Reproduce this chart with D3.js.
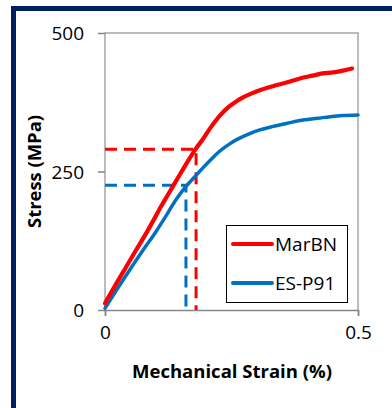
<!DOCTYPE html>
<html><head><meta charset="utf-8">
<script src="https://cdn.jsdelivr.net/npm/d3@7"></script>
<style>html,body{margin:0;padding:0;background:#fff;}svg{display:block;font-family:"Open Sans",sans-serif;}</style>
</head><body>
<svg id="c" width="392" height="408"></svg>
<script>
// Data
const seriesNames = ["MarBN", "ES-P91"];
const marbn = [[0,12],[0.02,44],[0.04,75],[0.06,106],[0.083,141],[0.1,169],[0.112,189],[0.125,209],[0.145,240],[0.16,263],[0.178,289],[0.194,309],[0.21,331],[0.227,351],[0.245,367],[0.26,377],[0.271,383],[0.29,391],[0.31,398],[0.34,406],[0.36,411],[0.385,418],[0.41,423],[0.43,427],[0.451,429],[0.47,432],[0.488,436]];
const esp91 = [[0,3],[0.02,32],[0.053,78],[0.075,108],[0.099,139],[0.12,169],[0.138,196],[0.16,223],[0.18,243],[0.194,257],[0.21,272],[0.227,287],[0.245,299],[0.261,308],[0.285,318],[0.306,325],[0.326,330],[0.36,337],[0.385,342],[0.42,346],[0.445,349],[0.47,351],[0.5,352]];
const yieldStrain = [0.18, 0.16];
const yieldStress = [290, 225];
const xTicks = [0, 0.5];
const yTicks = [0, 250, 500];
const colors = ["#FF0000", "#0070C0"];

const svg = d3.select("#c");
// frame border
svg.append("rect").attr("x",11).attr("y",6).attr("width",5).attr("height",402).attr("fill","#002060");
svg.append("rect").attr("x",11).attr("y",6).attr("width",381).attr("height",5).attr("fill","#002060");

const x = d3.scaleLinear().domain([0,0.5]).range([105,358]);
const y = d3.scaleLinear().domain([0,500]).range([310,33]);

// plot border (left/top/right)
svg.append("path").attr("d",`M${x(0)},${y(0)}V${y(500)}H${x(0.5)}V${y(0)}`)
  .attr("fill","none").attr("stroke","#A6A6A6").attr("stroke-width",1.5);

// axes
const xAxis = d3.axisBottom(x).tickValues(xTicks).tickSize(6).tickPadding(10).tickFormat(d=>d===0?"0":String(d));
const gx = svg.append("g").attr("transform",`translate(0,${y(0)})`).call(xAxis);
const yAxis = d3.axisLeft(y).tickValues(yTicks).tickSize(7).tickPadding(14).tickFormat(d3.format("d"));
const gy = svg.append("g").attr("transform",`translate(${x(0)},0)`).call(yAxis);
[gx,gy].forEach(g=>{
  g.select(".domain").attr("stroke","#868686").attr("stroke-width",1.5);
  g.selectAll(".tick line").attr("stroke","#868686").attr("stroke-width",1.5);
  g.selectAll(".tick text").attr("font-family","Open Sans").attr("font-size",19).attr("fill","#000");
});
gy.select(".domain").remove();
gy.selectAll(".tick text").attr("dy","0.36em");
gx.selectAll(".tick text").attr("dy","0.71em");

// titles
svg.append("text").attr("x",232).attr("y",378).attr("text-anchor","middle")
  .attr("font-weight","bold").attr("font-size",18).attr("textLength",200).attr("lengthAdjust","spacingAndGlyphs")
  .text("Mechanical Strain (%)");
svg.append("text").attr("transform","translate(41,171.5) rotate(-90)").attr("text-anchor","middle")
  .attr("font-weight","bold").attr("font-size",18).attr("textLength",113).attr("lengthAdjust","spacingAndGlyphs")
  .text("Stress (MPa)");

// dashed yield guides
yieldStrain.forEach((s,i)=>{
  const st = yieldStress[i];
  svg.append("path").attr("d",`M${x(0)},${y(st)}H${x(s)}V${y(0)}`)
    .attr("fill","none").attr("stroke",colors[i]).attr("stroke-width",3).attr("stroke-dasharray","12,7");
});

// curves
const line = d3.line().x(d=>x(d[0])).y(d=>y(d[1])).curve(d3.curveCatmullRom.alpha(0.5));
svg.append("path").datum(esp91).attr("d",line).attr("fill","none").attr("stroke",colors[1]).attr("stroke-width",3.5).attr("stroke-linecap","round").attr("stroke-linejoin","round");
svg.append("path").datum(marbn).attr("d",line).attr("fill","none").attr("stroke",colors[0]).attr("stroke-width",4.2).attr("stroke-linecap","round").attr("stroke-linejoin","round");

// legend
const lg = svg.append("g");
lg.append("rect").attr("x",226.5).attr("y",225.5).attr("width",121).attr("height",77).attr("fill","#fff").attr("stroke","#000").attr("stroke-width",1);
seriesNames.forEach((n,i)=>{
  const yy = 244 + i*39;
  lg.append("line").attr("x1",233).attr("x2",272).attr("y1",yy).attr("y2",yy).attr("stroke",colors[i]).attr("stroke-width",4).attr("stroke-linecap","round");
  lg.append("text").attr("x",275).attr("y",yy).attr("dy","0.36em").attr("font-size",19).text(n);
});
</script>
</body></html>
